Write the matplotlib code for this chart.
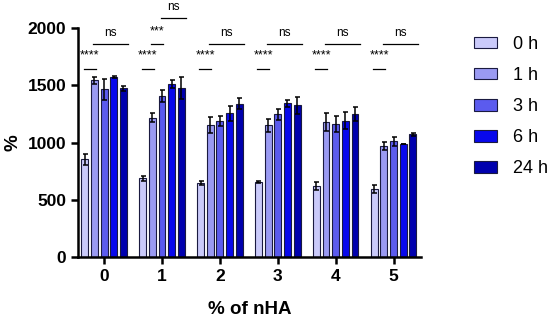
import numpy as np
import matplotlib.pyplot as plt

plt.rcParams["font.family"] = ["Liberation Sans", "DejaVu Sans"]

# nHA oranı (%) ve zaman noktaları
nha = ["0", "1", "2", "3", "4", "5"]
saatler = ["0 h", "1 h", "3 h", "6 h", "24 h"]

# ortalamalar
h0 = [853, 687, 649, 652, 620, 594]
h1 = [1543, 1217, 1150, 1150, 1179, 969]
h3 = [1464, 1406, 1188, 1246, 1159, 1010]
h6 = [1575, 1511, 1255, 1342, 1190, 990]
h24 = [1473, 1479, 1339, 1325, 1252, 1071]

# hata çubukları
h0_err = [50, 23, 17, 9, 38, 32]
h1_err = [30, 41, 70, 58, 76, 38]
h3_err = [90, 53, 46, 47, 70, 41]
h6_err = [8, 35, 66, 29, 74, 0]
h24_err = [23, 96, 47, 75, 61, 15]

# anlamlılık: (grup, bar1, bar2, etiket, seviye)
anlamlilik = [
    (0, 0, 1, "****", 0), (0, 1, 4, "ns", 1),
    (1, 0, 1, "****", 0), (1, 1, 2, "***", 1), (1, 2, 4, "ns", 2),
    (2, 0, 1, "****", 0), (2, 1, 4, "ns", 1),
    (3, 0, 1, "****", 0), (3, 1, 4, "ns", 1),
    (4, 0, 1, "****", 0), (4, 1, 4, "ns", 1),
    (5, 0, 1, "****", 0), (5, 1, 4, "ns", 1),
]

ortalamalar = [h0, h1, h3, h6, h24]
hatalar = [h0_err, h1_err, h3_err, h6_err, h24_err]
renkler = ["#CACAFA", "#9A9AF2", "#5B5BEE", "#0808EC", "#0000AE"]

fig = plt.figure(figsize=(5.5, 3.25), dpi=100)
ax = fig.add_axes([0.142, 0.209, 0.623, 0.705])

x = np.arange(len(nha))
adim = 0.167
genislik = 0.12
for i, (m, e) in enumerate(zip(ortalamalar, hatalar)):
    pos = x + (i - 2) * adim
    ax.bar(pos, m, width=genislik, color=renkler[i], edgecolor="#1a1a40",
           linewidth=0.8, label=saatler[i], zorder=2)
    ax.errorbar(pos, m, yerr=e, fmt="none", ecolor="black", elinewidth=1.1,
                capsize=1.8, capthick=1.1, zorder=3)

# çizgi yükseklikleri (seviye başına)
cizgi_y = [1645, 1860, 2087]
for g, b1, b2, etiket, sev in anlamlilik:
    x1 = g + (b1 - 2) * adim - 0.02
    x2 = g + (b2 - 2) * adim + 0.08
    if b2 - b1 == 1:
        x2 = g + (b2 - 2) * adim + 0.02
    y = cizgi_y[sev]
    ax.plot([x1, x2], [y, y], color="black", linewidth=0.9, clip_on=False)
    if etiket == "ns":
        ax.text((x1 + x2) / 2, y + 45, etiket, ha="center", va="bottom",
                fontsize=8.5, clip_on=False)
    else:
        ax.text((x1 + x2) / 2, y + 85, etiket, ha="center", va="baseline",
                fontsize=9, clip_on=False)

ax.set_xlim(-0.45, 5.47)
ax.set_ylim(0, 2000)
ax.set_yticks([0, 500, 1000, 1500, 2000])
ax.set_xticks(x)
ax.set_xticklabels(nha)

for s in ["top", "right"]:
    ax.spines[s].set_visible(False)
for s in ["left", "bottom"]:
    ax.spines[s].set_linewidth(1.8)
ax.tick_params(axis="both", width=1.8, length=5, labelsize=12.5)
for lbl in ax.get_xticklabels() + ax.get_yticklabels():
    lbl.set_fontweight("bold")

ax.set_ylabel("%", fontsize=13.5, fontweight="bold", labelpad=4)
ax.set_xlabel("% of nHA", fontsize=13.5, fontweight="bold", labelpad=12)

ax.legend(loc="upper left", bbox_to_anchor=(474 / 550, 1 - 36 / 325),
          bbox_transform=fig.transFigure, frameon=False, borderpad=0,
          borderaxespad=0, fontsize=13, handlelength=1.3, handleheight=0.6,
          labelspacing=0.78, handletextpad=0.85)

plt.savefig("out.png", dpi=100)
